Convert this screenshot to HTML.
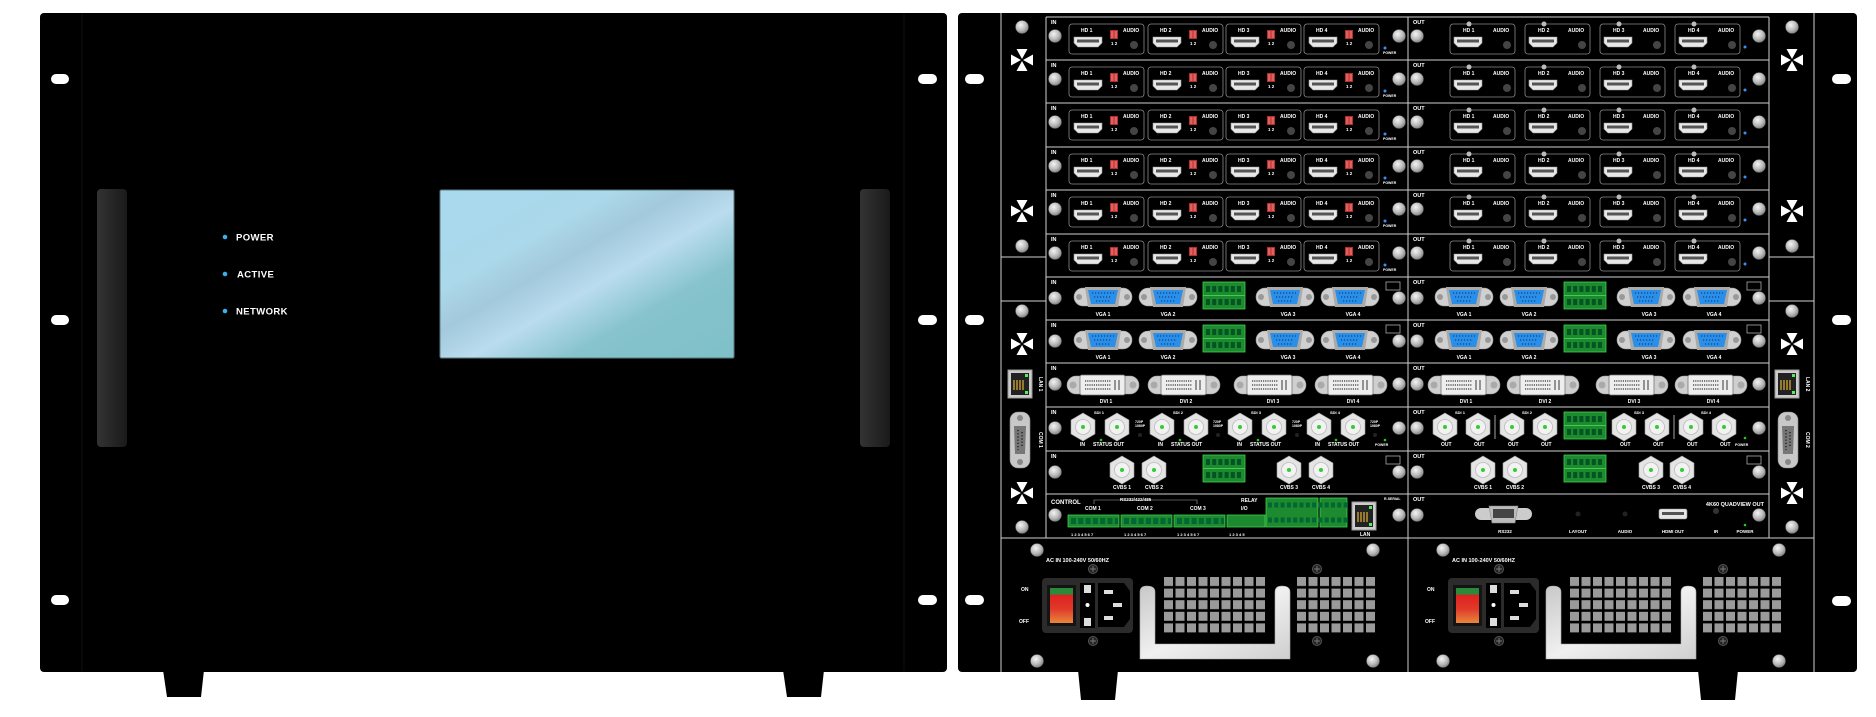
<!DOCTYPE html>
<html><head><meta charset="utf-8"><style>
html,body{margin:0;padding:0;background:#fff;width:1876px;height:717px;overflow:hidden}
svg{display:block}
text{font-family:"Liberation Sans",sans-serif;font-weight:bold;fill:#fff}
</style></head><body>
<svg width="1876" height="717" viewBox="0 0 1876 717" xmlns="http://www.w3.org/2000/svg">
<defs>
<radialGradient id="scr" cx="40%" cy="35%" r="70%"><stop offset="0" stop-color="#f4f4f4"/><stop offset="0.6" stop-color="#b8b8b8"/><stop offset="1" stop-color="#7a7a7a"/></radialGradient>
<linearGradient id="hdl" x1="0" x2="1"><stop offset="0" stop-color="#333"/><stop offset="1" stop-color="#1a1a1a"/></linearGradient>
<linearGradient id="scrn" x1="0" y1="0" x2="1" y2="1">
<stop offset="0" stop-color="#a9d9ee"/><stop offset="0.3" stop-color="#abd8ea"/><stop offset="0.42" stop-color="#a3c9dc"/><stop offset="0.55" stop-color="#badcee"/><stop offset="0.72" stop-color="#86c3cc"/><stop offset="1" stop-color="#7fc0c8"/></linearGradient>
<linearGradient id="silver" x1="0" y1="0" x2="1" y2="1"><stop offset="0" stop-color="#c8c8c8"/><stop offset="0.5" stop-color="#f0f0f0"/><stop offset="1" stop-color="#cfcfcf"/></linearGradient>
<linearGradient id="sw" x1="0" y1="0" x2="0" y2="1"><stop offset="0" stop-color="#2a8a3a"/><stop offset="0.18" stop-color="#2a8a3a"/><stop offset="0.2" stop-color="#e02020"/><stop offset="0.6" stop-color="#e03a2a"/><stop offset="1" stop-color="#e8873a"/></linearGradient>
<g id="screw"><circle r="6.5" fill="url(#scr)" stroke="#666" stroke-width="0.5"/></g>
<g id="mscrew"><circle r="4.5" fill="#222" stroke="#555"/><path d="M-3,0H3M0,-3V3" stroke="#777" stroke-width="1"/></g>
<g id="star"><path d="M-5.5,-11H5.5L0,-1Z M-5.5,11H5.5L0,1Z M-11,-5.5V5.5L-1,0Z M11,-5.5V5.5L1,0Z" fill="#fff"/></g>
<g id="hport"><path d="M0,0H28V6L24,10H4L0,6Z" fill="#e8e8e8" stroke="#999" stroke-width="0.6"/><rect x="3" y="2.5" width="22" height="3" fill="#555"/></g>
<g id="hin"><rect x="0" y="0" width="75" height="30" rx="3" fill="#000" stroke="#8a8a8a" stroke-width="0.8"/><use href="#hport" x="5" y="13"/><rect x="41" y="6" width="8" height="9" fill="#b03030"/><rect x="42" y="7" width="2.5" height="7" fill="#e06060"/><rect x="45.5" y="7" width="2.5" height="7" fill="#e06060"/><circle cx="65" cy="21" r="4" fill="#444"/></g>
<g id="hout"><rect x="0" y="0" width="65" height="30" rx="3" fill="#000" stroke="#8a8a8a" stroke-width="0.8"/><circle cx="19" cy="0" r="2.5" fill="#bbb"/><use href="#hport" x="4" y="13"/><circle cx="57" cy="21" r="4" fill="#444"/></g>
<g id="vga"><rect x="-29" y="-9" width="58" height="18" rx="9" fill="#d0d0d0" stroke="#999" stroke-width="0.6"/><circle cx="-24" cy="0" r="3" fill="#999"/><circle cx="24" cy="0" r="3" fill="#999"/><path d="M-18,-10H18L15,10H-15Z" fill="#aaa"/><path d="M-15,-7H15L12,7H-12Z" fill="#2a8fe8"/><path d="M-11,-4H11M-9,0H9M-7,4H7" stroke="#10408a" stroke-width="1.2" stroke-dasharray="1.2 1.8"/></g>
<g id="dvi"><rect x="-36" y="-9" width="72" height="18" rx="9" fill="#cfcfcf" stroke="#999" stroke-width="0.6"/><circle cx="-30" cy="0" r="3.5" fill="#aaa"/><circle cx="30" cy="0" r="3.5" fill="#aaa"/><rect x="-23" y="-10" width="45" height="20" rx="2" fill="#eee" stroke="#777" stroke-width="0.8"/><path d="M-18,-4H8M-18,0H8M-18,4H8" stroke="#555" stroke-width="1.6" stroke-dasharray="1.2 1"/><path d="M12,-5V5M16,-5V5" stroke="#555" stroke-width="1.2"/></g>
<g id="bnc"><path d="M0,-14L12,-7L12,7L0,14L-12,7L-12,-7Z" fill="#e4e4e4" stroke="#999" stroke-width="0.6"/><circle r="7.5" fill="#f2f2f2" stroke="#bbb" stroke-width="0.8"/><circle r="2" fill="#3c3"/></g>
<g id="gblk"><rect width="42" height="27" fill="#1d8a2f" stroke="#3ecf4a" stroke-width="0.8"/><path d="M3,7H40M3,20H40" stroke="#052" stroke-width="6" stroke-dasharray="4 2.2"/><path d="M0,13.5H42" stroke="#3ecf4a" stroke-width="1"/></g>
<g id="tb"><rect width="51" height="12" fill="#1d8a2f" stroke="#3ecf4a" stroke-width="0.8"/><path d="M3,6H50" stroke="#063" stroke-width="6" stroke-dasharray="5 2.3"/></g>
<g id="db9"><rect x="-10" y="-28" width="20" height="56" rx="8" fill="#c8c8c8" stroke="#888" stroke-width="0.6"/><circle cy="-22" r="3" fill="#888"/><circle cy="22" r="3" fill="#888"/><path d="M-6,-14H6L5,14H-5Z" fill="#777"/><path d="M-2,-10V10M2,-8V8" stroke="#222" stroke-width="1.5" stroke-dasharray="1.2 2"/></g>
<g id="lan"><rect width="24" height="28" fill="#ccc" stroke="#999"/><rect x="3" y="3" width="18" height="22" fill="#222"/><path d="M6,10V20M9,10V20M12,10V20M15,10V20" stroke="#c9a030" stroke-width="1.4"/><rect x="17" y="4" width="3" height="3" fill="#5e5"/><rect x="17" y="21" width="3" height="3" fill="#5e5"/></g>
<pattern id="gr1" x="1164" y="577" width="11.5" height="11.6" patternUnits="userSpaceOnUse"><rect width="9" height="9" fill="#9a9a9a"/></pattern>
<pattern id="gr2" x="1297" y="577" width="11.5" height="11.6" patternUnits="userSpaceOnUse"><rect width="9" height="9" fill="#9a9a9a"/></pattern>
</defs>

<!-- FRONT -->
<polygon points="163,670 204,670 201,697 167,697" fill="#000"/>
<polygon points="783,670 824,670 821,697 787,697" fill="#000"/>
<rect x="40" y="13" width="907" height="659" rx="4" fill="#000"/>
<path d="M82,14V671M904,14V671" stroke="#111" stroke-width="1"/>
<rect x="51" y="74" width="18" height="10" rx="5" fill="#fff"/>
<rect x="51" y="315" width="18" height="10" rx="5" fill="#fff"/>
<rect x="51" y="595" width="18" height="10" rx="5" fill="#fff"/>
<rect x="918" y="74" width="19" height="10" rx="5" fill="#fff"/>
<rect x="918" y="315" width="19" height="10" rx="5" fill="#fff"/>
<rect x="918" y="595" width="19" height="10" rx="5" fill="#fff"/>
<rect x="97" y="189" width="30" height="258" rx="4" fill="url(#hdl)"/>
<rect x="860" y="189" width="30" height="258" rx="4" fill="url(#hdl)"/>
<rect x="440" y="190" width="294" height="168" rx="1.5" fill="url(#scrn)" stroke="#5a7a80" stroke-width="1"/>
<circle cx="225" cy="237" r="2.3" fill="#3ab0f0"/><circle cx="225" cy="274" r="2.3" fill="#3ab0f0"/><circle cx="225" cy="311" r="2.3" fill="#3ab0f0"/>
<text x="236" y="240.5" font-size="9.5" letter-spacing="0.4">POWER</text>
<text x="237" y="277.5" font-size="9.5" letter-spacing="0.4">ACTIVE</text>
<text x="236" y="314.5" font-size="9.5" letter-spacing="0.4">NETWORK</text>

<!-- REAR -->
<polygon points="1078,670 1118,670 1115,700 1081,700" fill="#000"/>
<polygon points="1698,670 1738,670 1735,700 1701,700" fill="#000"/>
<rect x="958" y="13" width="899" height="659" rx="4" fill="#000"/>
<rect x="965" y="74" width="19" height="10" rx="5" fill="#fff"/>
<rect x="965" y="315" width="19" height="10" rx="5" fill="#fff"/>
<rect x="965" y="595" width="19" height="10" rx="5" fill="#fff"/>
<rect x="1832" y="74" width="19" height="10" rx="5" fill="#fff"/>
<rect x="1832" y="315" width="19" height="10" rx="5" fill="#fff"/>
<rect x="1832" y="596" width="19" height="10" rx="5" fill="#fff"/>
<g stroke="#cfcfcf" stroke-width="1" fill="none">
<path d="M1001,13V672M1814,13V672M1001,538H1814M1408,538V672M1001,257H1046M1001,301H1046M1769,257H1814M1769,301H1814"/>
<path d="M1046,17V538M1408,17V538M1769,17V538"/>
<path d="M1046,17H1769M1046,60H1769M1046,103H1769M1046,147H1769M1046,190H1769M1046,234H1769M1046,277H1769M1046,320H1769M1046,363H1769M1046,407H1769M1046,451H1769M1046,494H1769"/>
</g>
<!-- side strips -->
<use href="#screw" x="1022" y="27"/><use href="#star" x="1022" y="60"/><use href="#star" x="1022" y="211"/><use href="#screw" x="1022" y="246"/>
<use href="#screw" x="1022" y="311"/><use href="#star" x="1022" y="344"/><use href="#star" x="1022" y="493"/><use href="#screw" x="1022" y="527"/>
<use href="#lan" x="1008" y="370"/><use href="#db9" x="1020" y="440"/>
<text font-size="5" transform="translate(1039,377) rotate(90)">LAN 1</text>
<text font-size="5" transform="translate(1039,432) rotate(90)">COM 1</text>
<use href="#screw" x="1792" y="27"/><use href="#star" x="1792" y="60"/><use href="#star" x="1792" y="211"/><use href="#screw" x="1792" y="246"/>
<use href="#screw" x="1792" y="311"/><use href="#star" x="1792" y="344"/><use href="#star" x="1792" y="493"/><use href="#screw" x="1792" y="527"/>
<use href="#lan" x="1775" y="370"/><use href="#db9" x="1788" y="440"/>
<text font-size="5" transform="translate(1806,377) rotate(90)">LAN 2</text>
<text font-size="5" transform="translate(1806,432) rotate(90)">COM 2</text>

<!-- HDMI ROWS -->
<g transform="translate(0,17)">
<use href="#screw" x="1055" y="19"/><use href="#screw" x="1399" y="19"/><use href="#screw" x="1417" y="19"/><use href="#screw" x="1759" y="19"/>
<use href="#hin" x="1069" y="7"/><use href="#hin" x="1148" y="7"/><use href="#hin" x="1226" y="7"/><use href="#hin" x="1304" y="7"/>
<use href="#hout" x="1450" y="7"/><use href="#hout" x="1525" y="7"/><use href="#hout" x="1600" y="7"/><use href="#hout" x="1675" y="7"/>
<circle cx="1385" cy="31" r="1.5" fill="#3a8ff0"/><circle cx="1745" cy="30" r="1.5" fill="#3a8ff0"/>
<text font-size="5.5" y="7"><tspan x="1051">IN</tspan><tspan x="1413">OUT</tspan></text>
<text font-size="5" y="15"><tspan x="1081">HD 1</tspan><tspan x="1123">AUDIO</tspan><tspan x="1160">HD 2</tspan><tspan x="1202">AUDIO</tspan><tspan x="1238">HD 3</tspan><tspan x="1280">AUDIO</tspan><tspan x="1316">HD 4</tspan><tspan x="1358">AUDIO</tspan><tspan x="1463">HD 1</tspan><tspan x="1493">AUDIO</tspan><tspan x="1538">HD 2</tspan><tspan x="1568">AUDIO</tspan><tspan x="1613">HD 3</tspan><tspan x="1643">AUDIO</tspan><tspan x="1688">HD 4</tspan><tspan x="1718">AUDIO</tspan></text>
<text font-size="4.5" y="28"><tspan x="1111">1 2</tspan><tspan x="1190">1 2</tspan><tspan x="1268">1 2</tspan><tspan x="1346">1 2</tspan></text>
<text font-size="3.5" x="1383" y="37">POWER</text>
</g>
<g transform="translate(0,60)">
<use href="#screw" x="1055" y="19"/><use href="#screw" x="1399" y="19"/><use href="#screw" x="1417" y="19"/><use href="#screw" x="1759" y="19"/>
<use href="#hin" x="1069" y="7"/><use href="#hin" x="1148" y="7"/><use href="#hin" x="1226" y="7"/><use href="#hin" x="1304" y="7"/>
<use href="#hout" x="1450" y="7"/><use href="#hout" x="1525" y="7"/><use href="#hout" x="1600" y="7"/><use href="#hout" x="1675" y="7"/>
<circle cx="1385" cy="31" r="1.5" fill="#3a8ff0"/><circle cx="1745" cy="30" r="1.5" fill="#3a8ff0"/>
<text font-size="5.5" y="7"><tspan x="1051">IN</tspan><tspan x="1413">OUT</tspan></text>
<text font-size="5" y="15"><tspan x="1081">HD 1</tspan><tspan x="1123">AUDIO</tspan><tspan x="1160">HD 2</tspan><tspan x="1202">AUDIO</tspan><tspan x="1238">HD 3</tspan><tspan x="1280">AUDIO</tspan><tspan x="1316">HD 4</tspan><tspan x="1358">AUDIO</tspan><tspan x="1463">HD 1</tspan><tspan x="1493">AUDIO</tspan><tspan x="1538">HD 2</tspan><tspan x="1568">AUDIO</tspan><tspan x="1613">HD 3</tspan><tspan x="1643">AUDIO</tspan><tspan x="1688">HD 4</tspan><tspan x="1718">AUDIO</tspan></text>
<text font-size="4.5" y="28"><tspan x="1111">1 2</tspan><tspan x="1190">1 2</tspan><tspan x="1268">1 2</tspan><tspan x="1346">1 2</tspan></text>
<text font-size="3.5" x="1383" y="37">POWER</text>
</g>
<g transform="translate(0,103)">
<use href="#screw" x="1055" y="19"/><use href="#screw" x="1399" y="19"/><use href="#screw" x="1417" y="19"/><use href="#screw" x="1759" y="19"/>
<use href="#hin" x="1069" y="7"/><use href="#hin" x="1148" y="7"/><use href="#hin" x="1226" y="7"/><use href="#hin" x="1304" y="7"/>
<use href="#hout" x="1450" y="7"/><use href="#hout" x="1525" y="7"/><use href="#hout" x="1600" y="7"/><use href="#hout" x="1675" y="7"/>
<circle cx="1385" cy="31" r="1.5" fill="#3a8ff0"/><circle cx="1745" cy="30" r="1.5" fill="#3a8ff0"/>
<text font-size="5.5" y="7"><tspan x="1051">IN</tspan><tspan x="1413">OUT</tspan></text>
<text font-size="5" y="15"><tspan x="1081">HD 1</tspan><tspan x="1123">AUDIO</tspan><tspan x="1160">HD 2</tspan><tspan x="1202">AUDIO</tspan><tspan x="1238">HD 3</tspan><tspan x="1280">AUDIO</tspan><tspan x="1316">HD 4</tspan><tspan x="1358">AUDIO</tspan><tspan x="1463">HD 1</tspan><tspan x="1493">AUDIO</tspan><tspan x="1538">HD 2</tspan><tspan x="1568">AUDIO</tspan><tspan x="1613">HD 3</tspan><tspan x="1643">AUDIO</tspan><tspan x="1688">HD 4</tspan><tspan x="1718">AUDIO</tspan></text>
<text font-size="4.5" y="28"><tspan x="1111">1 2</tspan><tspan x="1190">1 2</tspan><tspan x="1268">1 2</tspan><tspan x="1346">1 2</tspan></text>
<text font-size="3.5" x="1383" y="37">POWER</text>
</g>
<g transform="translate(0,147)">
<use href="#screw" x="1055" y="19"/><use href="#screw" x="1399" y="19"/><use href="#screw" x="1417" y="19"/><use href="#screw" x="1759" y="19"/>
<use href="#hin" x="1069" y="7"/><use href="#hin" x="1148" y="7"/><use href="#hin" x="1226" y="7"/><use href="#hin" x="1304" y="7"/>
<use href="#hout" x="1450" y="7"/><use href="#hout" x="1525" y="7"/><use href="#hout" x="1600" y="7"/><use href="#hout" x="1675" y="7"/>
<circle cx="1385" cy="31" r="1.5" fill="#3a8ff0"/><circle cx="1745" cy="30" r="1.5" fill="#3a8ff0"/>
<text font-size="5.5" y="7"><tspan x="1051">IN</tspan><tspan x="1413">OUT</tspan></text>
<text font-size="5" y="15"><tspan x="1081">HD 1</tspan><tspan x="1123">AUDIO</tspan><tspan x="1160">HD 2</tspan><tspan x="1202">AUDIO</tspan><tspan x="1238">HD 3</tspan><tspan x="1280">AUDIO</tspan><tspan x="1316">HD 4</tspan><tspan x="1358">AUDIO</tspan><tspan x="1463">HD 1</tspan><tspan x="1493">AUDIO</tspan><tspan x="1538">HD 2</tspan><tspan x="1568">AUDIO</tspan><tspan x="1613">HD 3</tspan><tspan x="1643">AUDIO</tspan><tspan x="1688">HD 4</tspan><tspan x="1718">AUDIO</tspan></text>
<text font-size="4.5" y="28"><tspan x="1111">1 2</tspan><tspan x="1190">1 2</tspan><tspan x="1268">1 2</tspan><tspan x="1346">1 2</tspan></text>
<text font-size="3.5" x="1383" y="37">POWER</text>
</g>
<g transform="translate(0,190)">
<use href="#screw" x="1055" y="19"/><use href="#screw" x="1399" y="19"/><use href="#screw" x="1417" y="19"/><use href="#screw" x="1759" y="19"/>
<use href="#hin" x="1069" y="7"/><use href="#hin" x="1148" y="7"/><use href="#hin" x="1226" y="7"/><use href="#hin" x="1304" y="7"/>
<use href="#hout" x="1450" y="7"/><use href="#hout" x="1525" y="7"/><use href="#hout" x="1600" y="7"/><use href="#hout" x="1675" y="7"/>
<circle cx="1385" cy="31" r="1.5" fill="#3a8ff0"/><circle cx="1745" cy="30" r="1.5" fill="#3a8ff0"/>
<text font-size="5.5" y="7"><tspan x="1051">IN</tspan><tspan x="1413">OUT</tspan></text>
<text font-size="5" y="15"><tspan x="1081">HD 1</tspan><tspan x="1123">AUDIO</tspan><tspan x="1160">HD 2</tspan><tspan x="1202">AUDIO</tspan><tspan x="1238">HD 3</tspan><tspan x="1280">AUDIO</tspan><tspan x="1316">HD 4</tspan><tspan x="1358">AUDIO</tspan><tspan x="1463">HD 1</tspan><tspan x="1493">AUDIO</tspan><tspan x="1538">HD 2</tspan><tspan x="1568">AUDIO</tspan><tspan x="1613">HD 3</tspan><tspan x="1643">AUDIO</tspan><tspan x="1688">HD 4</tspan><tspan x="1718">AUDIO</tspan></text>
<text font-size="4.5" y="28"><tspan x="1111">1 2</tspan><tspan x="1190">1 2</tspan><tspan x="1268">1 2</tspan><tspan x="1346">1 2</tspan></text>
<text font-size="3.5" x="1383" y="37">POWER</text>
</g>
<g transform="translate(0,234)">
<use href="#screw" x="1055" y="19"/><use href="#screw" x="1399" y="19"/><use href="#screw" x="1417" y="19"/><use href="#screw" x="1759" y="19"/>
<use href="#hin" x="1069" y="7"/><use href="#hin" x="1148" y="7"/><use href="#hin" x="1226" y="7"/><use href="#hin" x="1304" y="7"/>
<use href="#hout" x="1450" y="7"/><use href="#hout" x="1525" y="7"/><use href="#hout" x="1600" y="7"/><use href="#hout" x="1675" y="7"/>
<circle cx="1385" cy="31" r="1.5" fill="#3a8ff0"/><circle cx="1745" cy="30" r="1.5" fill="#3a8ff0"/>
<text font-size="5.5" y="7"><tspan x="1051">IN</tspan><tspan x="1413">OUT</tspan></text>
<text font-size="5" y="15"><tspan x="1081">HD 1</tspan><tspan x="1123">AUDIO</tspan><tspan x="1160">HD 2</tspan><tspan x="1202">AUDIO</tspan><tspan x="1238">HD 3</tspan><tspan x="1280">AUDIO</tspan><tspan x="1316">HD 4</tspan><tspan x="1358">AUDIO</tspan><tspan x="1463">HD 1</tspan><tspan x="1493">AUDIO</tspan><tspan x="1538">HD 2</tspan><tspan x="1568">AUDIO</tspan><tspan x="1613">HD 3</tspan><tspan x="1643">AUDIO</tspan><tspan x="1688">HD 4</tspan><tspan x="1718">AUDIO</tspan></text>
<text font-size="4.5" y="28"><tspan x="1111">1 2</tspan><tspan x="1190">1 2</tspan><tspan x="1268">1 2</tspan><tspan x="1346">1 2</tspan></text>
<text font-size="3.5" x="1383" y="37">POWER</text>
</g>

<!-- VGA ROWS -->
<g transform="translate(0,277)">
<use href="#screw" x="1055" y="21"/><use href="#screw" x="1399" y="21"/><use href="#screw" x="1417" y="21"/><use href="#screw" x="1759" y="21"/>
<use href="#vga" x="1103" y="20"/><use href="#vga" x="1168" y="20"/><use href="#vga" x="1285" y="20"/><use href="#vga" x="1350" y="20"/>
<use href="#vga" x="1464" y="20"/><use href="#vga" x="1529" y="20"/><use href="#vga" x="1646" y="20"/><use href="#vga" x="1712" y="20"/>
<use href="#gblk" x="1203" y="5"/><use href="#gblk" x="1564" y="5"/>
<rect x="1386" y="5" width="14" height="8" fill="none" stroke="#aaa" stroke-width="0.8"/><rect x="1747" y="5" width="14" height="8" fill="none" stroke="#aaa" stroke-width="0.8"/>
<text font-size="5.5" y="7"><tspan x="1051">IN</tspan><tspan x="1413">OUT</tspan></text>
<text font-size="5" y="39" text-anchor="middle"><tspan x="1103">VGA 1</tspan><tspan x="1168">VGA 2</tspan><tspan x="1288">VGA 3</tspan><tspan x="1353">VGA 4</tspan><tspan x="1464">VGA 1</tspan><tspan x="1529">VGA 2</tspan><tspan x="1649">VGA 3</tspan><tspan x="1714">VGA 4</tspan></text>
</g>
<g transform="translate(0,320)">
<use href="#screw" x="1055" y="21"/><use href="#screw" x="1399" y="21"/><use href="#screw" x="1417" y="21"/><use href="#screw" x="1759" y="21"/>
<use href="#vga" x="1103" y="20"/><use href="#vga" x="1168" y="20"/><use href="#vga" x="1285" y="20"/><use href="#vga" x="1350" y="20"/>
<use href="#vga" x="1464" y="20"/><use href="#vga" x="1529" y="20"/><use href="#vga" x="1646" y="20"/><use href="#vga" x="1712" y="20"/>
<use href="#gblk" x="1203" y="5"/><use href="#gblk" x="1564" y="5"/>
<rect x="1386" y="5" width="14" height="8" fill="none" stroke="#aaa" stroke-width="0.8"/><rect x="1747" y="5" width="14" height="8" fill="none" stroke="#aaa" stroke-width="0.8"/>
<text font-size="5.5" y="7"><tspan x="1051">IN</tspan><tspan x="1413">OUT</tspan></text>
<text font-size="5" y="39" text-anchor="middle"><tspan x="1103">VGA 1</tspan><tspan x="1168">VGA 2</tspan><tspan x="1288">VGA 3</tspan><tspan x="1353">VGA 4</tspan><tspan x="1464">VGA 1</tspan><tspan x="1529">VGA 2</tspan><tspan x="1649">VGA 3</tspan><tspan x="1714">VGA 4</tspan></text>
</g>

<!-- DVI ROW -->
<g transform="translate(0,363)">
<use href="#screw" x="1055" y="21"/><use href="#screw" x="1399" y="21"/><use href="#screw" x="1417" y="21"/><use href="#screw" x="1759" y="21"/>
<use href="#dvi" x="1103" y="22"/><use href="#dvi" x="1184" y="22"/><use href="#dvi" x="1270" y="22"/><use href="#dvi" x="1351" y="22"/>
<use href="#dvi" x="1464" y="22"/><use href="#dvi" x="1543" y="22"/><use href="#dvi" x="1632" y="22"/><use href="#dvi" x="1711" y="22"/>
<text font-size="5.5" y="7"><tspan x="1051">IN</tspan><tspan x="1413">OUT</tspan></text>
<text font-size="5" y="40" text-anchor="middle"><tspan x="1106">DVI 1</tspan><tspan x="1186">DVI 2</tspan><tspan x="1273">DVI 3</tspan><tspan x="1353">DVI 4</tspan><tspan x="1466">DVI 1</tspan><tspan x="1545">DVI 2</tspan><tspan x="1634">DVI 3</tspan><tspan x="1713">DVI 4</tspan></text>
</g>

<!-- SDI ROW -->
<g transform="translate(0,407)">
<use href="#screw" x="1055" y="21"/><use href="#screw" x="1399" y="21"/><use href="#screw" x="1417" y="21"/><use href="#screw" x="1759" y="21"/>
<use href="#bnc" x="1083" y="20"/><use href="#bnc" x="1117" y="20"/><use href="#bnc" x="1162" y="20"/><use href="#bnc" x="1196" y="20"/><use href="#bnc" x="1240" y="20"/><use href="#bnc" x="1274" y="20"/><use href="#bnc" x="1319" y="20"/><use href="#bnc" x="1353" y="20"/>
<use href="#bnc" x="1445" y="20"/><use href="#bnc" x="1478" y="20"/><use href="#bnc" x="1512" y="20"/><use href="#bnc" x="1545" y="20"/><use href="#bnc" x="1624" y="20"/><use href="#bnc" x="1657" y="20"/><use href="#bnc" x="1691" y="20"/><use href="#bnc" x="1724" y="20"/>
<use href="#gblk" x="1564" y="5"/>
<path d="M1495,8V32M1674,8V32" stroke="#ccc" stroke-width="0.8"/>
<g fill="#2c2"><circle cx="1101" cy="33" r="1.3"/><circle cx="1180" cy="33" r="1.3"/><circle cx="1258" cy="33" r="1.3"/><circle cx="1336" cy="33" r="1.3"/><circle cx="1385" cy="33" r="1.3"/><circle cx="1745" cy="31" r="1.3"/></g>
<g fill="#222"><circle cx="1140" cy="28" r="2"/><circle cx="1218" cy="28" r="2"/><circle cx="1297" cy="28" r="2"/><circle cx="1375" cy="28" r="2"/></g>
<text font-size="5.5" y="7"><tspan x="1051">IN</tspan><tspan x="1413">OUT</tspan></text>
<text font-size="4" y="7"><tspan x="1094">SDI 1</tspan><tspan x="1173">SDI 2</tspan><tspan x="1251">SDI 3</tspan><tspan x="1330">SDI 4</tspan><tspan x="1455">SDI 1</tspan><tspan x="1522">SDI 2</tspan><tspan x="1634">SDI 3</tspan><tspan x="1701">SDI 4</tspan></text>
<text font-size="3.5" y="16"><tspan x="1135">720P</tspan><tspan x="1213">720P</tspan><tspan x="1292">720P</tspan><tspan x="1370">720P</tspan></text>
<text font-size="3.5" y="20"><tspan x="1135">1080P</tspan><tspan x="1213">1080P</tspan><tspan x="1292">1080P</tspan><tspan x="1370">1080P</tspan></text>
<text font-size="5" y="39"><tspan x="1080">IN</tspan><tspan x="1093">STATUS OUT</tspan><tspan x="1158">IN</tspan><tspan x="1171">STATUS OUT</tspan><tspan x="1237">IN</tspan><tspan x="1250">STATUS OUT</tspan><tspan x="1315">IN</tspan><tspan x="1328">STATUS OUT</tspan><tspan x="1441">OUT</tspan><tspan x="1474">OUT</tspan><tspan x="1508">OUT</tspan><tspan x="1541">OUT</tspan><tspan x="1620">OUT</tspan><tspan x="1653">OUT</tspan><tspan x="1687">OUT</tspan><tspan x="1720">OUT</tspan></text>
<text font-size="3.5" y="39"><tspan x="1375">POWER</tspan><tspan x="1735">POWER</tspan></text>
</g>

<!-- CVBS ROW -->
<g transform="translate(0,451)">
<use href="#screw" x="1055" y="21"/><use href="#screw" x="1399" y="21"/><use href="#screw" x="1417" y="21"/><use href="#screw" x="1759" y="21"/>
<use href="#bnc" x="1122" y="19"/><use href="#bnc" x="1154" y="19"/><use href="#bnc" x="1289" y="19"/><use href="#bnc" x="1321" y="19"/>
<use href="#bnc" x="1483" y="19"/><use href="#bnc" x="1515" y="19"/><use href="#bnc" x="1651" y="19"/><use href="#bnc" x="1682" y="19"/>
<use href="#gblk" x="1203" y="4"/><use href="#gblk" x="1564" y="4"/>
<rect x="1386" y="5" width="14" height="8" fill="none" stroke="#aaa" stroke-width="0.8"/><rect x="1747" y="5" width="14" height="8" fill="none" stroke="#aaa" stroke-width="0.8"/>
<text font-size="5.5" y="7"><tspan x="1051">IN</tspan><tspan x="1413">OUT</tspan></text>
<text font-size="5" y="38" text-anchor="middle"><tspan x="1122">CVBS 1</tspan><tspan x="1154">CVBS 2</tspan><tspan x="1289">CVBS 3</tspan><tspan x="1321">CVBS 4</tspan><tspan x="1483">CVBS 1</tspan><tspan x="1515">CVBS 2</tspan><tspan x="1651">CVBS 3</tspan><tspan x="1682">CVBS 4</tspan></text>
</g>

<!-- CONTROL ROW -->
<g transform="translate(0,494)">
<use href="#screw" x="1055" y="21"/><use href="#screw" x="1399" y="21"/><use href="#screw" x="1417" y="21"/><use href="#screw" x="1759" y="21"/>
<use href="#tb" x="1068" y="21"/><use href="#tb" x="1121" y="21"/><use href="#tb" x="1174" y="21"/><rect x="1227" y="21" width="38" height="12" fill="#1d8a2f" stroke="#3ecf4a" stroke-width="0.8"/>
<rect x="1266" y="4" width="52" height="29" fill="#1d8a2f" stroke="#3ecf4a" stroke-width="0.8"/><rect x="1320" y="4" width="27" height="29" fill="#1d8a2f" stroke="#3ecf4a" stroke-width="0.8"/>
<path d="M1268,11H1347M1268,26H1347" stroke="#063" stroke-width="5" stroke-dasharray="4 2.3"/>
<use href="#lan" x="1352" y="8"/>
<path d="M1094,10V6H1197V10" stroke="#aaa" fill="none" stroke-width="0.6"/>
<text font-size="6" x="1051" y="10">CONTROL</text>
<text font-size="4.5" x="1120" y="7">RS232/422/485</text>
<text font-size="5" y="16"><tspan x="1085">COM 1</tspan><tspan x="1137">COM 2</tspan><tspan x="1190">COM 3</tspan><tspan x="1241">I/O</tspan></text>
<text font-size="5" x="1241" y="8">RELAY</text>
<text font-size="3.5" x="1384" y="6">R-SERIAL</text>
<text font-size="4" y="42"><tspan x="1071">1 2 3 4 5 6 7</tspan><tspan x="1124">1 2 3 4 5 6 7</tspan><tspan x="1177">1 2 3 4 5 6 7</tspan><tspan x="1229">1 2 3 4 5</tspan></text>
<text font-size="5" x="1360" y="42">LAN</text>
<text font-size="5.5" x="1413" y="7">OUT</text>
<text font-size="5.5" x="1764" y="12" text-anchor="end">4K60 QUADVIEW OUT</text>
<rect x="1475" y="14" width="57" height="12" rx="6" fill="#ccc"/><path d="M1489,12H1518L1515,29H1492Z" fill="#bbb" stroke="#888" stroke-width="0.6"/><rect x="1493" y="15" width="21" height="9" fill="#444"/>
<circle cx="1578" cy="20" r="2.5" fill="#222"/><circle cx="1625" cy="20" r="2.5" fill="#222"/><circle cx="1716" cy="17" r="3" fill="#333"/><circle cx="1745" cy="31" r="1.3" fill="#2c2"/>
<rect x="1659" y="15" width="28" height="10" rx="2" fill="#e8e8e8" stroke="#999" stroke-width="0.6"/><rect x="1662" y="18" width="22" height="3" fill="#555"/>
<text font-size="4.5" y="39" text-anchor="middle"><tspan x="1505">RS232</tspan><tspan x="1578">LAYOUT</tspan><tspan x="1625">AUDIO</tspan><tspan x="1673">HDMI OUT</tspan><tspan x="1716">IR</tspan><tspan x="1745">POWER</tspan></text>
</g>

<!-- PSU -->
<g>
<use href="#screw" x="1037" y="550"/><use href="#screw" x="1373" y="550"/><use href="#screw" x="1037" y="661"/><use href="#screw" x="1373" y="661"/>
<use href="#mscrew" x="1093" y="569"/><use href="#mscrew" x="1093" y="641"/><use href="#mscrew" x="1317" y="569"/><use href="#mscrew" x="1317" y="641"/>
<text font-size="5.5" x="1046" y="562">AC IN  100-240V 50/60HZ</text>
<text font-size="5" x="1021" y="591">ON</text><text font-size="5" x="1019" y="623">OFF</text>
<rect x="1042" y="578" width="91" height="55" rx="4" fill="#2b2b2b"/>
<rect x="1047" y="585" width="29" height="41" fill="#141414"/><rect x="1050" y="588" width="23" height="35" fill="url(#sw)"/>
<rect x="1080" y="583" width="15" height="45" fill="#000"/><rect x="1084" y="585" width="7" height="8" fill="#ddd"/><rect x="1084" y="618" width="7" height="8" fill="#ddd"/><circle cx="1087.5" cy="605" r="2" fill="#fff"/>
<path d="M1098,583H1124L1130,591V619L1124,627H1098Z" fill="#000"/>
<rect x="1104" y="590" width="9" height="4" fill="#ddd"/><rect x="1113" y="603" width="9" height="4" fill="#ddd"/><rect x="1104" y="616" width="9" height="4" fill="#ddd"/>
<path d="M1140,592Q1140,586 1147,586Q1155,586 1155,592V644H1275V592Q1275,586 1282,586Q1290,586 1290,592V659H1140Z" fill="url(#silver)" stroke="#aaa" stroke-width="0.6"/>
<rect x="1164" y="577" width="102" height="56" fill="url(#gr1)"/>
<rect x="1297" y="577" width="78" height="56" fill="url(#gr2)"/>
</g>
<g transform="translate(406,0)">
<use href="#screw" x="1037" y="550"/><use href="#screw" x="1373" y="550"/><use href="#screw" x="1037" y="661"/><use href="#screw" x="1373" y="661"/>
<use href="#mscrew" x="1093" y="569"/><use href="#mscrew" x="1093" y="641"/><use href="#mscrew" x="1317" y="569"/><use href="#mscrew" x="1317" y="641"/>
<text font-size="5.5" x="1046" y="562">AC IN  100-240V 50/60HZ</text>
<text font-size="5" x="1021" y="591">ON</text><text font-size="5" x="1019" y="623">OFF</text>
<rect x="1042" y="578" width="91" height="55" rx="4" fill="#2b2b2b"/>
<rect x="1047" y="585" width="29" height="41" fill="#141414"/><rect x="1050" y="588" width="23" height="35" fill="url(#sw)"/>
<rect x="1080" y="583" width="15" height="45" fill="#000"/><rect x="1084" y="585" width="7" height="8" fill="#ddd"/><rect x="1084" y="618" width="7" height="8" fill="#ddd"/><circle cx="1087.5" cy="605" r="2" fill="#fff"/>
<path d="M1098,583H1124L1130,591V619L1124,627H1098Z" fill="#000"/>
<rect x="1104" y="590" width="9" height="4" fill="#ddd"/><rect x="1113" y="603" width="9" height="4" fill="#ddd"/><rect x="1104" y="616" width="9" height="4" fill="#ddd"/>
<path d="M1140,592Q1140,586 1147,586Q1155,586 1155,592V644H1275V592Q1275,586 1282,586Q1290,586 1290,592V659H1140Z" fill="url(#silver)" stroke="#aaa" stroke-width="0.6"/>
<rect x="1164" y="577" width="102" height="56" fill="url(#gr1)"/>
<rect x="1297" y="577" width="78" height="56" fill="url(#gr2)"/>
</g>
</svg>
</body></html>
